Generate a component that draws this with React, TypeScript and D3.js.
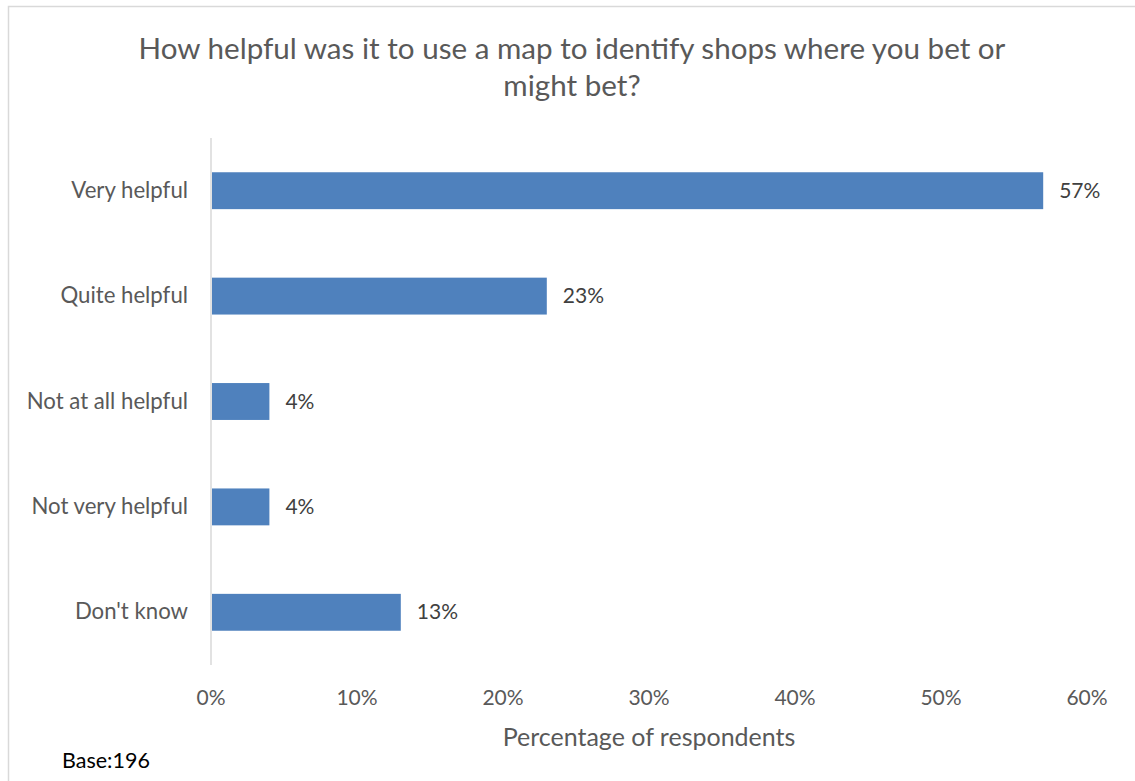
import React from "react";
import * as d3 from "d3";

const categories = ["Very helpful", "Quite helpful", "Not at all helpful", "Not very helpful", "Don't know"];
const values = [57, 23, 4, 4, 13];
const xTicks = [0, 10, 20, 30, 40, 50, 60];
const titleLines = ["How helpful was it to use a map to identify shops where you bet or", "might bet?"];
const axisTitle = "Percentage of respondents";
const baseNote = "Base:196";

const W = 1135;
const H = 781;
const FONT = "Lato, 'Open Sans', sans-serif";

export default function App() {
  const plot = { left: 211, right: 1087, top: 138, bottom: 665 };
  const x = d3.scaleLinear().domain([0, 60]).range([plot.left, plot.right]);
  const y = d3
    .scaleBand<string>()
    .domain(categories)
    .range([plot.top, plot.bottom])
    .paddingInner(0.65)
    .paddingOuter(0.325);
  const grey = "#595959";
  return (
    <svg
      width={W}
      height={H}
      style={{ position: "absolute", left: 0, top: 0, display: "block" }}
      fontFamily={FONT}
    >
      <rect x={0} y={0} width={W} height={H} fill="#fff" />
      <rect x={8.5} y={6.5} width={1128} height={790} fill="#fff" stroke="#D9D9D9" strokeWidth={1.5} />
      {titleLines.map((t, i) => (
        <text key={i} x={572} y={59 + i * 37} textAnchor="middle" fontSize={29.6} fill={grey}>
          {t}
        </text>
      ))}
      <line x1={x(0)} x2={x(0)} y1={plot.top} y2={plot.bottom} stroke="#D9D9D9" strokeWidth={1.5} />
      {categories.map((c, i) => {
        const by = y(c)!;
        const bh = y.bandwidth();
        return (
          <g key={c}>
            <rect x={x(0) + 1} y={by} width={x(values[i]) - x(0) - 1} height={bh} fill="#4F81BD" />
            <text x={188} y={by + bh / 2 + 7} textAnchor="end" fontSize={22.2} fill={grey}>
              {c}
            </text>
            <text x={x(values[i]) + 16} y={by + bh / 2 + 7} textAnchor="start" fontSize={21} fill="#404040">
              {values[i]}%
            </text>
          </g>
        );
      })}
      {xTicks.map((t) => (
        <text key={t} x={x(t)} y={705} textAnchor="middle" fontSize={21} fill={grey}>
          {t}%
        </text>
      ))}
      <text x={(plot.left + plot.right) / 2} y={746} textAnchor="middle" fontSize={25} fill={grey}>
        {axisTitle}
      </text>
      <text x={62} y={768} fontSize={21.5} fill="#000">
        {baseNote}
      </text>
    </svg>
  );
}
